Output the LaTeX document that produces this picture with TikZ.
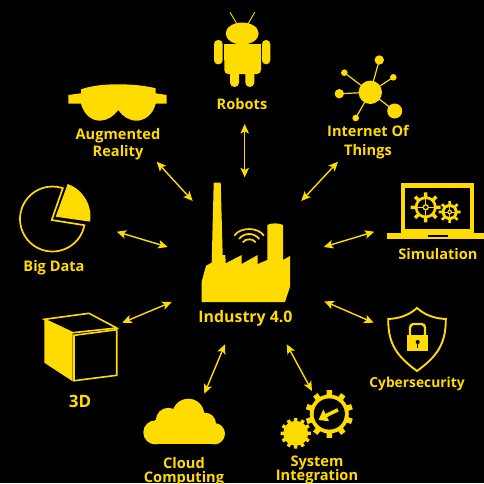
\documentclass[tikz,border=0pt]{standalone}
\usepackage{fontspec}
\setmainfont{Open Sans}
\usetikzlibrary{arrows.meta}
\definecolor{ind}{HTML}{FFDC00}
\tikzset{
  lab/.style={text=ind,font=\fontsize{14.6}{16}\selectfont\bfseries,inner sep=0pt,anchor=base},
  link/.style={draw=ind,line width=1.4pt,{Stealth[length=9.5pt,width=8.5pt,inset=2.2pt]}-{Stealth[length=9.5pt,width=8.5pt,inset=2.2pt]}},
  line/.style={draw=ind,line width=1.7pt,fill=none},
}
% gear: centre x, y, root r, tip r, tooth half width, teeth step
\newcommand{\gearteeth}[6]{%
  \fill[ind] (#1,#2) circle[radius=#3];
  \foreach \ga in {0,#6,...,359}{
    \fill[ind,shift={(#1,#2)},rotate=\ga] (-#5,0) -- (-#5*0.85,-#4) -- (#5*0.85,-#4) -- (#5,0) -- cycle;
  }}
\begin{document}
\begin{tikzpicture}[x=1pt,y=-1pt]
\useasboundingbox[fill=black] (0,0) rectangle (484,483);

% ---- Factory
\fill[ind] (213.7,182.7) -- (220.7,182.7) -- (222.7,255) -- (225.3,255) -- (225.7,263.3) -- (241.7,255) -- (241.7,264) -- (257.7,255) -- (257.7,264) -- (267.3,260) -- (267.3,225) .. controls (271,222.8) and (279,222.8) .. (283,225) -- (283,260) -- (290,256) -- (290,286.7) -- (285,302) -- (201.7,302) -- (201.7,281.7) -- (206,265.7) -- (211.7,262.7) -- cycle;
\draw[ind,line width=1.7pt] (234.3,235.7) .. controls (240,226.8) and (258,226.8) .. (264,235.7);
\draw[ind,line width=1.7pt] (239,239) .. controls (244,232.3) and (254,232.3) .. (259.3,239);
\draw[ind,line width=1.7pt] (242.7,242.3) .. controls (245.5,238.3) and (253,238.3) .. (255.7,242.3);

% ---- Robot
\draw[ind,line width=0.9pt] (230,12.3) -- (237,24);
\draw[ind,line width=0.9pt] (254.7,12.3) -- (248,24);
\begin{scope}
\clip (200,0) rectangle (280,43);
\fill[ind] (242.2,33.5) ellipse[x radius=16.5,y radius=11];
\end{scope}
\fill[ind,rounded corners=4pt] (224.3,44.3) -- (261,44.3) -- (261,74) -- (224.3,74) -- cycle;
\fill[ind] (224.3,44.3) rectangle (261,60);
\fill[ind,rounded corners=4pt] (214,40) rectangle (222.7,64.3);
\fill[ind,rounded corners=4pt] (262,40) rectangle (270.3,64.3);
\fill[ind,rounded corners=4.4pt] (230,68) rectangle (239,87);
\fill[ind,rounded corners=4.4pt] (245.3,68) rectangle (254.3,87);

% ---- Goggles
\fill[ind] (68.3,95) -- (81,93.3) -- (81,89.3) .. controls (92,85.5) and (105,84.3) .. (118.3,84.3) .. controls (131,84.3) and (145,85.5) .. (155.7,88.3) -- (155.7,93.3) -- (166.7,95) -- (166.7,103.7) -- (155.7,103.7) .. controls (153,115) and (144,120.7) .. (136.7,120.7) .. controls (129,120.7) and (122,116) .. (118.3,110) .. controls (114,116) and (107,120.7) .. (100,120.7) .. controls (92,120.7) and (84,115) .. (81,103.7) -- (68.3,103.7) -- cycle;

% ---- IoT
\foreach \px/\py/\pr in {379.3/60/4.7,393.3/77.3/3.3,344.3/72.7/3.3,339.3/93.7/4.7,355.7/118/3.3,394.7/111/7.5}{
  \draw[ind,line width=1.2pt] (370.3,92.3) -- (\px,\py);
  \fill[ind] (\px,\py) circle[radius=\pr];
}
\fill[ind] (370.3,92.3) circle[radius=11.7];

% ---- Laptop
\fill[ind] (401,183.3) rectangle (474.3,233.3);
\fill[black] (405.3,187.7) rectangle (470.3,228.7);
\fill[ind] (387.3,233.3) rectangle (484,239.3);
\fill[black] (428,235.2) rectangle (448,237);
\foreach \gx/\gy/\gr/\gt/\gh/\gw in {425.7/207.3/11/15/3.2/2,449.7/212/8/11/2.4/1.5}{
  \gearteeth{\gx}{\gy}{\gr}{\gt}{\gw}{45}
  \fill[black] (\gx,\gy) circle[radius=\gr-2.8];
  \draw[ind,line width=1pt] (\gx-\gr,\gy) -- (\gx+\gr,\gy);
  \draw[ind,line width=1pt] (\gx,\gy-\gr) -- (\gx,\gy+\gr);
  \fill[ind] (\gx,\gy) circle[radius=\gh];
  \fill[black] (\gx,\gy) circle[radius=\gh-1.3];
}

% ---- Pie
\draw[line,line join=miter] (84.4,225.2) arc[start angle=11,end angle=288.5,radius=32.5] -- (51.7,220) -- cycle;
\fill[ind] (55.7,216.7) -- (67.7,184) arc[start angle=-70,end angle=8.5,radius=34.6] -- cycle;

% ---- Cube
\fill[ind] (44.3,319.3) -- (72.7,332.7) -- (72.7,381.3) -- (44.3,362.7) -- cycle;
\draw[ind,line width=1.6pt,line join=miter] (44.3,319.3) -- (89,313.3) -- (116.7,328) -- (72.7,332.7) -- cycle;
\draw[ind,line width=1.6pt,line join=miter] (74,335.3) -- (116.7,329.7) -- (116.7,375.3) -- (74,380.7) -- cycle;

% ---- Cloud
\fill[ind] (155.3,432.4) circle[radius=12];
\fill[ind] (214.3,433.7) circle[radius=10.7];
\fill[ind] (168.3,420.3) circle[radius=12.5];
\fill[ind] (188.3,414.7) circle[radius=16];
\fill[ind] (205,423.7) circle[radius=11];
\fill[ind] (155,420) rectangle (214.3,444.4);

% ---- Shield
\draw[ind,line width=1.9pt,line join=miter] (417,308) .. controls (408,316) and (398,318.5) .. (388.2,319) .. controls (388,345) and (398,357) .. (417,371) .. controls (436,357) and (446,345) .. (445.8,319) .. controls (436,318.5) and (426,316) .. (417,308) -- cycle;
\draw[ind,line width=2.4pt,rounded corners=3.5pt] (410,336) -- (410,324) -- (425,324) -- (425,336);
\fill[ind] (407.3,335.3) rectangle (428,351.3);
\fill[black] (417.7,342) circle[radius=2];
\draw[black,line width=1.2pt] (417.7,342) -- (417.7,348.3);

% ---- System gears
\gearteeth{329.3}{414}{19.5}{23.8}{3.2}{36}
\fill[black] (329.3,414) circle[radius=15.6];
\gearteeth{295.7}{433.3}{12.5}{15.2}{2}{30}
\draw[ind,line width=3.6pt] (338,409.8) -- (326,415.6);
\fill[ind] (318.5,420) -- (323.3,409.5) -- (329,421.2) -- cycle;

% ---- Labels
\node[lab,font=\fontsize{15.9}{16}\selectfont\bfseries] (ind) at (245.5,322.7) {Industry 4.0};
\node[lab] (rob) at (242,109.3) {Robots};
\node[lab] (ar1) at (118,139) {Augmented};
\node[lab] (ar2) at (118,156.7) {Reality};
\node[lab] (iot1) at (368,136.7) {Internet Of};
\node[lab] (iot2) at (368,155) {Things};
\node[lab] (sim) at (438,259.3) {Simulation};
\node[lab] (big) at (54,271) {Big Data};
\node[lab,font=\fontsize{13.8}{16}\selectfont\bfseries] (cyb) at (417,387) {Cybersecurity};
\node[lab,font=\fontsize{17}{18}\selectfont\bfseries] (thd) at (80,407) {3D};
\node[lab] (cl1) at (184,468.7) {Cloud};
\node[lab] (cl2) at (184,482) {Computing};
\node[lab] (sy1) at (317,466) {System};
\node[lab] (sy2) at (317,480.3) {Integration};

% ---- Connector ends
\coordinate (rA) at (244.7,124);   \coordinate (rB) at (244.7,177.3);
\coordinate (aA) at (156.7,161.7); \coordinate (aB) at (192.7,201);
\coordinate (iA) at (338,161.7);   \coordinate (iB) at (301.3,201);
\coordinate (bA) at (116.7,231.7); \coordinate (bB) at (167.7,247);
\coordinate (sA) at (374.3,231.7); \coordinate (sB) at (323.7,247);
\coordinate (tA) at (122.3,322.7); \coordinate (tB) at (171.7,302);
\coordinate (cA) at (373.7,322.7); \coordinate (cB) at (324.3,301.3);
\coordinate (lA) at (204.3,393.7); \coordinate (lB) at (225,344.3);
\coordinate (yA) at (312,391);     \coordinate (yB) at (286.7,344.3);
\foreach \p/\q in {rA/rB,aA/aB,iA/iB,bA/bB,sA/sB,tA/tB,cA/cB,lA/lB,yA/yB}
  \draw[link] (\p) -- (\q);
\end{tikzpicture}
\end{document}
